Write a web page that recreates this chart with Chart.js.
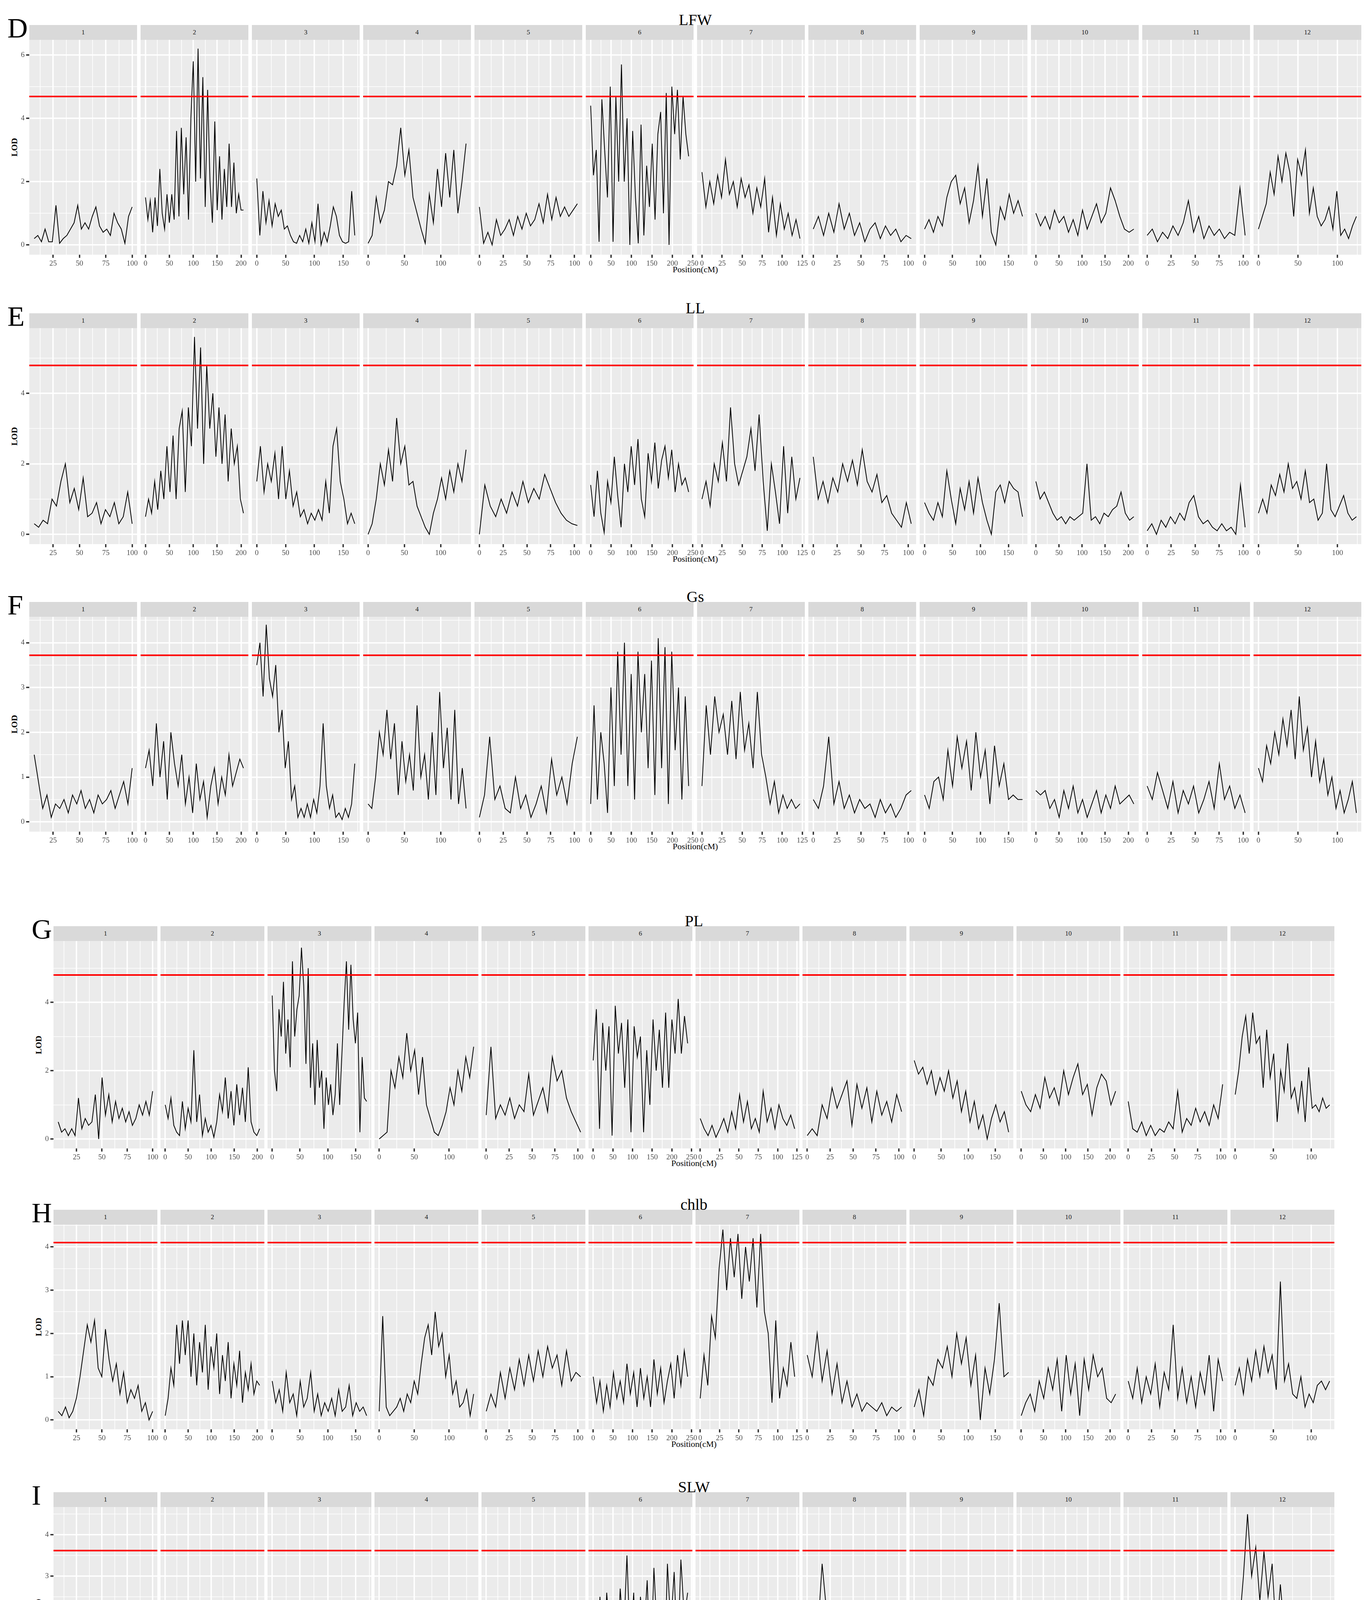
<!DOCTYPE html>
<html>
<head>
<meta charset="utf-8">
<script src="https://cdn.jsdelivr.net/npm/chart.js@4.4.0/dist/chart.umd.min.js"></script>
<style>
  body { margin: 0; width: 3498px; height: 4460px; background: #fff; position: relative; font-family: "Liberation Serif", serif; overflow: hidden; }
  .strip { position: absolute; background: #d9d9d9; color: #1a1a1a; font-size: 17px; text-align: center; }
  .title { position: absolute; font-size: 40px; color: #000; transform: translate(-50%, -50%); }
  .letter { position: absolute; font-size: 72px; color: #000; line-height: 1; }
  .ylab { position: absolute; font-size: 22px; font-weight: bold; color: #000; transform: translate(-50%, -50%) rotate(-90deg); }
  .xlab { position: absolute; font-size: 22px; color: #000; transform: translate(-50%, -50%); }
  canvas { position: absolute; }
</style>
</head>
<body>
<script>
// chromosome extents (cM) and x tick spacing
const chrNames = ['1','2','3','4','5','6','7','8','9','10','11','12'];
const chrStart = [7, 0, 0, 0, 0, 0, 0, 0, 0, 0, 0, 0];
const chrEnd = [100, 205, 170, 135, 103, 240, 122, 103, 175, 212, 102, 124];
const xStep = [25, 50, 50, 50, 25, 50, 25, 25, 50, 50, 25, 50];

// trait names, thresholds and axis maxima
const traits = ['LFW', 'LL', 'Gs', 'PL', 'chlb', 'SLW'];
const letters = ['D', 'E', 'F', 'G', 'H', 'I'];
const thresholds = [4.69, 4.79, 3.72, 4.80, 4.10, 3.62];
const lodMax = [6.17, 5.57, 4.36, 5.52, 4.30, 4.45];
const yStep = [2, 2, 1, 2, 1, 1];

// LOD profiles, one list per chromosome (evenly spaced along the chromosome)
const lfw = [
  [0.2,0.3,0.1,0.5,0.1,0.1,1.25,0.05,0.2,0.3,0.5,0.7,1.25,0.5,0.7,0.5,0.9,1.2,0.6,0.4,0.5,0.3,1.0,0.7,0.5,0.05,0.9,1.2],
  [1.5,0.8,1.4,0.4,1.5,0.6,2.4,1.0,0.5,1.6,0.7,1.6,0.8,3.6,0.9,3.7,1.6,3.4,0.8,4.0,5.8,2.0,6.2,2.1,5.3,1.2,4.9,2.0,0.7,3.9,1.1,2.8,0.8,2.4,1.2,3.2,1.2,2.6,1.0,1.6,1.1,1.1],
  [2.1,0.3,1.7,0.7,1.4,0.6,1.3,0.9,1.1,0.5,0.6,0.3,0.1,0.05,0.3,0.1,0.5,0.05,0.7,0.1,1.3,0.0,0.4,0.1,0.6,1.2,0.9,0.3,0.1,0.05,0.1,1.7,0.3],
  [0.05,0.3,1.5,0.7,1.1,2.0,1.9,2.5,3.7,2.2,3.0,1.5,1.0,0.5,0.05,1.6,0.7,2.4,1.2,2.9,1.5,3.0,1.0,2.0,3.2],
  [1.2,0.05,0.4,0.0,0.8,0.3,0.5,0.8,0.3,0.9,0.5,1.0,0.6,0.8,1.3,0.7,1.6,0.8,1.5,0.9,1.2,0.9,1.1,1.3],
  [4.4,2.2,3.0,0.1,4.6,3.0,1.5,5.0,0.1,4.7,2.0,5.7,2.0,4.0,0.0,3.6,1.5,0.05,3.8,0.3,2.5,1.2,3.2,0.8,3.5,4.2,1.0,4.8,0.0,5.0,3.5,4.9,2.7,4.7,3.5,2.8],
  [2.3,1.2,2.0,1.3,2.2,1.5,2.7,1.6,2.0,1.2,2.1,1.5,1.9,1.0,1.8,1.2,2.1,0.4,1.5,0.3,1.3,0.5,1.0,0.3,0.8,0.2],
  [0.5,0.9,0.3,1.0,0.4,1.3,0.5,1.0,0.3,0.7,0.1,0.5,0.7,0.2,0.6,0.3,0.5,0.1,0.3,0.2],
  [0.5,0.8,0.4,0.9,0.6,1.5,2.0,2.2,1.3,1.8,0.7,1.4,2.5,0.9,2.1,0.4,0.0,1.2,0.8,1.6,1.0,1.4,0.9],
  [1.0,0.6,0.9,0.5,1.1,0.7,0.9,0.4,0.8,0.3,1.1,0.5,0.9,1.3,0.7,1.0,1.8,1.4,0.9,0.5,0.4,0.5],
  [0.3,0.5,0.1,0.4,0.2,0.6,0.3,0.7,1.4,0.4,0.9,0.2,0.6,0.3,0.5,0.2,0.4,0.3,1.8,0.3],
  [0.5,0.9,1.3,2.3,1.6,2.8,2.0,2.9,2.3,0.9,2.7,2.2,3.0,1.0,1.8,0.9,0.6,0.8,1.2,0.5,1.7,0.3,0.5,0.2,0.6,0.9]
];
const ll = [
  [0.3,0.2,0.4,0.3,1.0,0.8,1.5,2.0,0.9,1.3,0.7,1.6,0.5,0.6,0.9,0.3,0.7,0.5,0.9,0.3,0.5,1.2,0.3],
  [0.5,1.0,0.6,1.5,0.7,1.8,1.0,2.5,1.2,2.8,1.0,3.0,3.5,1.2,3.6,2.5,5.6,3.0,5.3,2.0,4.8,3.0,4.0,2.2,3.6,2.0,3.4,1.5,3.0,2.0,2.5,1.0,0.6],
  [1.5,2.5,1.2,2.0,1.5,2.3,1.0,2.5,1.0,1.8,0.8,1.2,0.5,0.7,0.3,0.6,0.4,0.7,0.4,1.5,0.6,2.5,3.0,1.5,1.0,0.3,0.6,0.3],
  [0.0,0.3,1.0,2.0,1.4,2.4,1.5,3.3,2.0,2.5,1.4,1.5,0.8,0.5,0.2,0.0,0.6,1.0,1.6,1.0,1.8,1.2,2.0,1.5,2.4],
  [0.0,1.4,0.8,0.5,1.0,0.6,1.2,0.8,1.5,0.9,1.3,1.0,1.7,1.3,0.9,0.6,0.4,0.3,0.25],
  [1.4,0.5,1.8,0.6,0.05,1.5,0.9,2.2,1.1,0.2,2.0,1.2,2.5,1.4,2.7,1.0,0.5,2.3,1.5,2.6,1.3,2.1,2.5,1.6,2.4,1.2,2.0,1.4,1.6,1.2],
  [1.0,1.5,0.8,2.0,1.5,2.6,1.5,3.6,2.0,1.4,1.8,2.2,3.0,1.8,3.4,1.5,0.1,2.0,1.2,0.3,2.5,0.6,2.2,1.0,1.6],
  [2.2,1.0,1.5,0.9,1.6,1.2,2.0,1.5,2.1,1.4,2.4,1.5,1.2,1.7,0.9,1.1,0.6,0.4,0.2,0.9,0.3],
  [0.9,0.6,0.4,0.9,0.5,1.8,1.0,0.3,1.3,0.7,1.5,0.6,1.6,0.9,0.4,0.0,1.2,1.4,0.9,1.5,1.3,1.2,0.5],
  [1.5,1.0,1.2,0.9,0.6,0.4,0.5,0.3,0.5,0.4,0.5,0.6,2.0,0.4,0.5,0.3,0.6,0.5,0.7,0.8,1.2,0.6,0.4,0.5],
  [0.1,0.3,0.0,0.4,0.2,0.5,0.3,0.6,0.4,0.9,1.1,0.5,0.3,0.4,0.2,0.1,0.3,0.1,0.2,0.0,1.4,0.2],
  [0.6,1.0,0.6,1.4,1.1,1.7,1.2,2.0,1.3,1.5,1.0,1.8,0.9,1.0,0.4,0.6,2.0,0.7,0.5,0.8,1.1,0.6,0.4,0.5]
];
const gs = [
  [1.5,0.9,0.3,0.6,0.1,0.4,0.3,0.5,0.2,0.6,0.4,0.7,0.3,0.5,0.2,0.6,0.4,0.5,0.7,0.3,0.6,0.9,0.4,1.2],
  [1.2,1.6,0.8,2.2,1.0,1.8,0.5,2.0,1.3,0.8,1.5,0.4,1.0,0.2,1.3,0.5,0.9,0.1,0.8,1.2,0.4,1.0,0.6,1.5,0.8,1.1,1.4,1.2],
  [3.5,4.0,2.8,4.4,3.2,2.8,3.5,2.0,2.5,1.2,1.8,0.5,0.8,0.1,0.3,0.1,0.4,0.1,0.5,0.2,0.8,2.2,0.8,0.3,0.6,0.1,0.2,0.05,0.3,0.1,0.4,1.3],
  [0.4,0.3,1.0,2.0,1.5,2.5,1.4,2.2,0.6,1.8,0.9,1.5,0.7,2.6,1.0,1.5,0.5,2.0,0.6,2.9,1.2,2.1,0.5,2.5,0.4,1.2,0.3],
  [0.1,0.6,1.9,0.5,0.8,0.3,0.2,1.0,0.3,0.6,0.1,0.4,0.8,0.2,1.4,0.6,1.0,0.4,1.3,1.9],
  [0.4,2.6,0.5,2.0,1.3,0.2,3.0,0.8,3.8,1.5,4.0,0.8,3.3,0.5,3.8,2.0,3.3,1.2,3.6,0.6,4.1,1.2,3.9,0.4,3.8,1.6,3.0,0.5,2.8,0.8],
  [0.8,2.6,1.5,2.8,2.0,2.4,1.5,2.7,1.4,2.9,1.6,2.2,1.2,2.9,1.5,1.0,0.4,0.9,0.2,0.6,0.3,0.5,0.3,0.4],
  [0.5,0.3,0.8,1.9,0.4,0.9,0.3,0.6,0.2,0.5,0.3,0.4,0.1,0.5,0.2,0.4,0.1,0.3,0.6,0.7],
  [0.6,0.3,0.9,1.0,0.5,1.6,0.8,1.9,1.2,1.8,0.7,2.0,1.0,1.6,0.4,1.7,0.8,1.3,0.5,0.6,0.5,0.5],
  [0.7,0.6,0.7,0.3,0.5,0.1,0.7,0.3,0.8,0.2,0.5,0.1,0.4,0.7,0.2,0.6,0.3,0.8,0.4,0.5,0.6,0.4],
  [0.8,0.5,1.1,0.7,0.3,0.9,0.2,0.7,0.4,0.8,0.2,0.5,0.9,0.3,1.3,0.5,0.8,0.3,0.6,0.2],
  [1.2,0.9,1.7,1.3,2.0,1.5,2.3,1.7,2.5,1.4,2.8,1.6,2.1,1.0,1.8,0.9,1.4,0.6,1.0,0.3,0.7,0.2,0.5,0.9,0.2]
];
const pl = [
  [0.5,0.2,0.3,0.1,0.3,0.1,1.2,0.3,0.6,0.4,0.5,1.3,0.0,1.8,0.7,1.3,0.5,1.1,0.6,0.9,0.5,0.8,0.4,0.6,1.0,0.7,1.1,0.7,1.4],
  [1.0,0.6,1.2,0.4,0.2,0.1,1.1,0.3,0.9,0.5,2.6,0.5,1.3,0.1,0.6,0.2,0.4,0.05,0.5,1.3,0.8,1.8,0.6,1.4,0.4,1.6,0.7,1.5,0.5,2.1,0.5,0.2,0.1,0.3],
  [4.2,2.0,1.4,3.8,3.0,4.6,2.5,3.5,2.1,5.2,3.0,3.8,4.2,5.6,4.5,2.2,5.0,1.5,2.8,1.0,2.9,1.5,2.0,0.3,1.8,1.0,1.6,0.7,1.3,2.8,1.0,2.5,4.0,5.2,3.2,5.1,3.5,2.8,3.7,0.2,2.4,1.2,1.1],
  [0.0,0.1,0.2,2.0,1.5,2.4,1.8,3.1,2.0,2.6,1.3,2.4,1.0,0.6,0.2,0.1,0.4,0.8,1.5,1.0,2.0,1.4,2.4,1.8,2.7],
  [0.7,2.7,0.6,1.0,0.7,1.2,0.6,1.0,0.8,1.9,0.7,1.1,1.5,0.8,2.4,1.7,2.0,1.2,0.8,0.5,0.2],
  [2.3,3.8,0.3,3.4,2.0,3.3,0.1,3.9,2.5,3.4,1.5,3.5,0.2,3.3,2.4,3.0,0.2,2.6,1.0,3.5,2.0,3.2,1.5,3.7,1.5,3.5,2.5,4.1,2.5,3.6,2.8],
  [0.6,0.3,0.1,0.4,0.05,0.3,0.6,0.2,0.8,0.3,1.3,0.5,1.1,0.3,0.6,0.2,1.4,0.5,0.9,0.3,1.0,0.6,0.4,0.7,0.3],
  [0.1,0.3,0.1,1.0,0.6,1.5,0.9,1.3,1.7,0.4,1.6,0.9,1.5,0.5,1.4,0.7,1.1,0.5,1.3,0.8],
  [2.3,1.9,2.1,1.6,2.0,1.3,1.8,1.4,2.0,1.2,1.7,0.8,1.4,0.5,1.1,0.3,0.7,0.0,0.6,1.0,0.5,0.8,0.2],
  [1.4,1.0,0.8,1.3,0.9,1.8,1.2,1.5,1.0,2.0,1.3,1.8,2.2,1.3,1.6,0.7,1.5,1.9,1.7,1.0,1.4],
  [1.1,0.3,0.2,0.5,0.1,0.4,0.1,0.3,0.2,0.5,0.3,1.4,0.2,0.6,0.4,0.9,0.5,0.8,0.4,1.0,0.6,1.6],
  [1.3,2.0,3.0,3.6,2.5,3.7,2.8,3.0,1.5,3.2,1.8,2.5,0.5,2.0,1.4,2.8,1.2,1.5,0.8,1.7,0.5,2.1,0.9,1.0,0.8,1.2,0.9,1.0]
];
const chlb = [
  [0.2,0.1,0.3,0.05,0.2,0.5,1.0,1.6,2.2,1.8,2.3,1.2,1.0,2.1,1.4,0.9,1.3,0.6,1.1,0.4,0.7,0.5,0.8,0.2,0.4,0.0,0.2],
  [0.1,0.5,1.2,0.8,2.2,1.3,2.3,1.5,2.3,1.0,2.0,0.8,1.8,1.1,2.2,0.7,1.7,1.2,2.0,0.6,1.5,0.9,1.8,0.5,1.3,0.8,1.6,0.4,1.1,0.7,1.3,0.6,0.9,0.8],
  [0.9,0.4,0.7,0.2,1.1,0.4,0.6,0.1,0.9,0.3,0.5,1.1,0.2,0.6,0.1,0.4,0.2,0.5,0.1,0.7,0.2,0.3,0.8,0.1,0.4,0.2,0.3,0.1],
  [0.2,2.4,0.3,0.1,0.2,0.3,0.5,0.2,0.6,0.4,0.9,0.6,1.3,1.9,2.2,1.5,2.5,1.7,2.0,1.0,1.5,0.6,0.9,0.3,0.4,0.7,0.1,0.6],
  [0.2,0.6,0.3,1.1,0.5,1.2,0.7,1.4,0.8,1.5,0.9,1.6,1.0,1.7,1.2,1.5,0.8,1.6,0.9,1.1,1.0],
  [1.0,0.4,0.9,0.2,0.8,0.3,1.1,0.5,0.9,0.4,1.3,0.6,1.1,0.3,1.2,0.5,1.0,0.3,1.4,0.6,1.2,0.4,0.9,1.3,0.5,1.5,0.8,1.6,1.0],
  [0.5,1.5,0.8,2.4,1.9,3.5,4.4,3.0,4.2,3.3,4.3,2.8,4.0,3.2,4.2,2.6,4.3,2.5,2.0,0.4,2.3,0.5,1.2,0.8,1.8,1.0],
  [1.5,1.0,2.0,0.9,1.6,0.6,1.3,0.4,0.9,0.3,0.6,0.2,0.4,0.3,0.2,0.4,0.1,0.3,0.2,0.3],
  [0.3,0.7,0.1,1.0,0.8,1.4,1.2,1.7,1.0,2.0,1.3,1.9,0.8,1.5,0.0,1.2,0.6,1.4,2.7,1.0,1.1],
  [0.1,0.4,0.6,0.2,0.9,0.5,1.2,0.7,1.4,0.2,1.5,0.6,1.3,0.1,1.4,0.7,1.5,1.0,1.2,0.5,0.4,0.6],
  [0.9,0.5,1.2,0.4,1.0,0.6,1.3,0.3,1.1,0.7,2.2,0.5,1.2,0.4,1.0,0.3,1.1,0.6,1.5,0.2,1.4,0.9],
  [0.8,1.2,0.6,1.4,0.9,1.6,1.0,1.7,1.1,1.5,0.7,3.2,0.9,1.3,0.6,0.5,1.0,0.3,0.6,0.4,0.8,0.9,0.7,0.9]
];
const slw = [
  [0.3,0.5,0.2,1.3,0.4,0.1,0.3,0.5,0.2,0.7,0.4,0.9,0.6,1.0,0.5,0.7,0.4,0.6,0.3,0.5,0.4,0.6,2.0,0.6],
  [0.9,0.3,0.8,0.4,1.2,0.3,0.7,0.1,1.0,0.2,0.8,0.05,0.6,0.3,1.2,0.2,0.9,0.4,1.0,0.1,0.7,0.3,0.6,0.1,1.1,0.3,0.4],
  [0.4,1.0,0.6,0.9,0.3,1.1,0.7,1.2,0.8,1.3,0.6,1.2,0.4,0.9,0.7,1.0,0.5,0.8,0.3,1.0,1.9,0.8,1.3,0.9,1.2],
  [0.1,0.2,0.4,0.2,0.7,0.3,0.9,0.4,0.6,0.2,0.5,0.1,0.4,0.2,0.6,0.1,0.8,0.2,0.5,0.3,0.9,1.0],
  [0.3,0.6,1.2,0.4,0.8,0.3,0.6,0.2,0.5,0.3,0.6,0.2,0.4,0.7,0.3,0.6,0.2,0.1,0.05,0.05],
  [2.0,1.0,2.5,0.5,2.6,1.5,2.2,0.8,2.7,1.5,3.5,1.2,2.6,0.3,2.5,1.5,2.9,0.7,3.2,1.5,2.4,0.2,3.3,1.8,3.1,1.0,3.4,2.0,2.6],
  [2.0,0.8,1.5,0.5,1.3,0.9,1.6,0.6,1.2,0.4,1.3,0.7,0.4,0.2,0.6,0.1,0.3,0.2,0.4],
  [1.8,2.2,1.4,3.3,2.0,2.2,1.2,1.7,1.0,1.6,0.8,1.3,1.0,1.4,0.7,1.2,0.5,1.0,0.6,0.9],
  [0.6,0.3,0.4,0.2,0.8,0.1,0.5,1.2,0.3,0.6,0.1,0.4,0.0,0.1,0.05,1.0,0.2,0.05],
  [0.6,0.2,0.4,0.1,0.3,0.1,0.5,0.1,0.3,0.1,0.2,0.4,0.1,0.3,0.5,1.1,0.2,0.3,0.1],
  [0.2,1.2,0.1,0.3,0.1,0.2,0.6,1.3,0.4,1.1,0.2,0.5,0.1,0.4,0.1,0.3,0.05,0.4,0.2,1.0,0.6],
  [0.7,1.8,3.0,4.5,3.0,3.7,2.4,3.6,2.5,3.3,1.5,2.8,1.6,2.2,0.9,1.3,0.6,1.1,0.4,0.8,0.2,1.6,0.3,0.7]
];
const traitData = [lfw, ll, gs, pl, chlb, slw];

// page layout per panel
const stripTops = [64, 802, 1541, 2371, 3097, 3820];
const plotBottoms = [652, 1393, 2129, 2940, 3659, 4376];
const STRIP_H = 38;

function panelGeom(p) {
  return p < 3 ? { x0: 75, w: 276, gap: 9 } : { x0: 137, w: 266, gap: 8 };
}

function makeTicks(min, max, step) {
  const half = step / 2;
  const out = [];
  for (let v = Math.ceil(min / half) * half; v <= max + 1e-9; v += half) {
    const isMajor = Math.abs(v / step - Math.round(v / step)) < 1e-6;
    out.push({ value: v, minor: !isMajor });
  }
  return out;
}

function axisStyle(step, min, max, showLabels) {
  return {
    type: 'linear',
    min: min,
    max: max,
    afterBuildTicks: s => { s.ticks = makeTicks(min, max, step); },
    border: { display: false },
    grid: {
      color: '#ffffff',
      lineWidth: c => (c.tick && c.tick.minor) ? 1.6 : 3.5,
      drawTicks: showLabels,
      tickLength: 8,
      tickColor: c => (c.tick && c.tick.minor) ? 'rgba(0,0,0,0)' : '#333333'
    },
    ticks: {
      display: showLabels,
      autoSkip: false,
      maxRotation: 0,
      padding: 4,
      color: '#4d4d4d',
      font: { family: 'Liberation Serif', size: 19 },
      callback: function (v, i, ticks) { return ticks[i].minor ? '' : String(v); }
    }
  };
}

function addDiv(cls, text, css) {
  const d = document.createElement('div');
  d.className = cls;
  d.textContent = text;
  Object.assign(d.style, css);
  document.body.appendChild(d);
  return d;
}

const Y_W = 46;
const X_H = 44;
const EDGE = 16; // room either side for tick labels spilling into the gap

traits.forEach((trait, p) => {
  const g = panelGeom(p);
  const sTop = stripTops[p];
  const pTop = sTop + STRIP_H;
  const pBot = plotBottoms[p];
  const plotH = pBot - pTop;
  const totalW = 12 * g.w + 11 * g.gap;
  const centerX = g.x0 + totalW / 2;
  const yMin = -0.05 * lodMax[p];
  const yMax = 1.05 * lodMax[p];

  addDiv('letter', letters[p], { left: (g.x0 - 56) + 'px', top: (sTop - 28) + 'px' });
  addDiv('title', trait, { left: centerX + 'px', top: (sTop - 14) + 'px' });
  addDiv('ylab', 'LOD', { left: (g.x0 - 38) + 'px', top: (pTop + plotH / 2) + 'px' });
  addDiv('xlab', 'Position(cM)', { left: centerX + 'px', top: (pBot + 38) + 'px' });

  for (let c = 0; c < 12; c++) {
    const fx = g.x0 + c * (g.w + g.gap);
    addDiv('strip', chrNames[c], {
      left: fx + 'px', top: sTop + 'px', width: g.w + 'px',
      height: STRIP_H + 'px', lineHeight: STRIP_H + 'px'
    });

    const lods = traitData[p][c];
    const s = chrStart[c], e = chrEnd[c];
    const pts = lods.map((v, i) => ({ x: s + i * (e - s) / (lods.length - 1), y: v }));
    const pad = 0.05 * (e - s);
    const xMin = s - pad, xMax = e + pad;

    const first = c === 0;
    const leftRoom = first ? Y_W : EDGE;
    const cw = g.w + leftRoom + EDGE;
    const canvas = document.createElement('canvas');
    canvas.width = cw;
    canvas.height = plotH + X_H;
    canvas.style.left = (fx - leftRoom) + 'px';
    canvas.style.top = pTop + 'px';
    canvas.style.width = cw + 'px';
    canvas.style.height = (plotH + X_H) + 'px';
    document.body.appendChild(canvas);

    const xAxis = axisStyle(xStep[c], xMin, xMax, true);
    xAxis.afterFit = sc => { sc.height = X_H; sc.paddingLeft = 0; sc.paddingRight = 0; };
    const yAxis = axisStyle(yStep[p], yMin, yMax, first);
    yAxis.afterFit = sc => { sc.width = first ? Y_W : 0; sc.paddingTop = 0; sc.paddingBottom = 0; };

    new Chart(canvas, {
      type: 'line',
      data: {
        datasets: [
          {
            data: [{ x: xMin, y: thresholds[p] }, { x: xMax, y: thresholds[p] }],
            borderColor: '#ff0000', borderWidth: 4, pointRadius: 0, order: 0
          },
          {
            data: pts, borderColor: '#000000', borderWidth: 2,
            pointRadius: 0, tension: 0, order: 1
          }
        ]
      },
      plugins: [{
        id: 'panelBg',
        beforeDraw: ch => {
          const a = ch.chartArea, ctx = ch.ctx;
          ctx.save();
          ctx.fillStyle = '#ebebeb';
          ctx.fillRect(a.left, a.top, a.right - a.left, a.bottom - a.top);
          ctx.restore();
        }
      }],
      options: {
        responsive: false,
        animation: false,
        devicePixelRatio: 1,
        layout: { padding: { left: first ? 0 : EDGE, right: EDGE, top: 0, bottom: 0 } },
        plugins: { legend: { display: false }, tooltip: { enabled: false } },
        scales: { x: xAxis, y: yAxis }
      }
    });
  }
});
</script>
</body>
</html>
